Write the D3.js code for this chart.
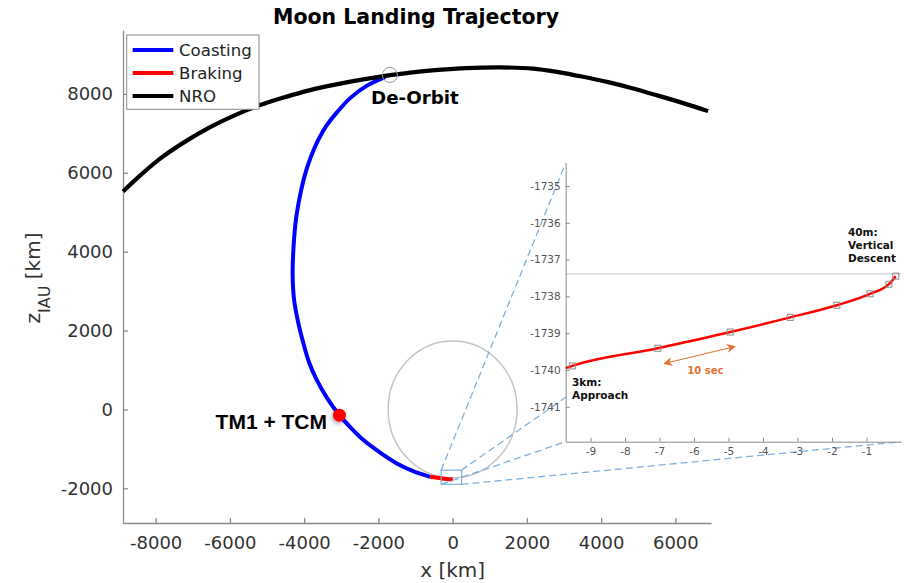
<!DOCTYPE html>
<html>
<head>
<meta charset="utf-8">
<script src="https://cdn.jsdelivr.net/npm/d3@7"></script>
<style>
  body { margin: 0; background: #fff; }
  svg { display: block; }
</style>
</head>
<body>
<svg id="chart" width="906" height="583"></svg>
<script>
// ---- Trajectory data (x, z in km, IAU frame) ----
const nroPath = [[-8879, 5527], [-8392, 5953], [-7880, 6359], [-7206, 6790], [-6533, 7158],
  [-5859, 7462], [-5186, 7716], [-4513, 7918], [-3839, 8096], [-3165, 8235], [-2492, 8354],
  [-1818, 8456], [-1145, 8540], [-391, 8608], [383, 8654], [1293, 8671], [2169, 8641],
  [2842, 8552], [3516, 8433], [4189, 8299], [4863, 8139], [5536, 7956], [6210, 7766], [6883, 7563]];
const coastingPath = [[-1818, 8425], [-2330, 8197], [-2761, 7893], [-3111, 7538], [-3408, 7183],
  [-3623, 6828], [-3812, 6422], [-3974, 5966], [-4108, 5434], [-4216, 4850], [-4283, 4166],
  [-4310, 3405], [-4270, 2771], [-4162, 2213], [-4019, 1673], [-3866, 1191], [-3658, 743],
  [-3381, 287], [-3050, -145], [-2734, -474], [-2403, -778], [-1953, -1095], [-1503, -1369],
  [-1064, -1564], [-606, -1709]];
const brakingPath = [[-606, -1709], [-291, -1750], [5, -1775]];
const deOrbitPoint = [-1690, 8480];
const tcmPoint = [-3050, -145];
const moonRadius = 1737;
const zoomBox = { x0: -310, x1: 240, z0: -1900, z1: -1540 };

const xTicks = [-8000, -6000, -4000, -2000, 0, 2000, 4000, 6000];
const zTicks = [-2000, 0, 2000, 4000, 6000, 8000];

const legendLabels = ["Coasting", "Braking", "NRO"];
const legendColors = ["#0000ff", "#ff0000", "#000000"];

// ---- Final approach detail (x in km, z in km) ----
const approachStart = [-9.72, -1739.95];
const descentX = [-9.53, -7.05, -4.95, -3.21, -1.86, -0.90, -0.35, -0.15];
const descentZ = [-1739.89, -1739.41, -1738.97, -1738.57, -1738.24, -1737.93, -1737.67, -1737.45];
const verticalGateZ = -1737.39;
const insetXTicks = [-9, -8, -7, -6, -5, -4, -3, -2, -1];
const insetZTicks = [-1741, -1740, -1739, -1738, -1737, -1736, -1735];
const tenSecArrow = [[-6.84, -1739.82], [-4.84, -1739.37]];

const svg = d3.select("#chart");
const FONT = "'DejaVu Sans', sans-serif";
const axisGray = "#8c8c8c";

// ---- Main axes ----
const x = d3.scaleLinear().domain([-8880, 6960]).range([123, 711]);
const z = d3.scaleLinear().domain([-2880, 9620]).range([523, 30]);

const defs = svg.append("defs");
const shadow = defs.append("filter").attr("id", "dotShadow")
  .attr("x", "-100%").attr("y", "-100%").attr("width", "300%").attr("height", "300%");
shadow.append("feDropShadow").attr("dx", -1).attr("dy", 2).attr("stdDeviation", 2)
  .attr("flood-color", "#000").attr("flood-opacity", 0.35);

const xAxis = svg.append("g").attr("transform", `translate(0,${z.range()[0]})`)
  .call(d3.axisBottom(x).tickValues(xTicks).tickSize(-5).tickSizeOuter(0).tickPadding(13)
    .tickFormat(d3.format("d")));
const zAxis = svg.append("g").attr("transform", `translate(${x.range()[0]},0)`)
  .call(d3.axisLeft(z).tickValues(zTicks).tickSize(-5).tickSizeOuter(0).tickPadding(10)
    .tickFormat(d3.format("d")));
[xAxis, zAxis].forEach(g => {
  g.select(".domain").attr("stroke", axisGray).attr("stroke-width", 1.3);
  g.selectAll(".tick line").attr("stroke", axisGray).attr("stroke-width", 1.3);
  g.selectAll(".tick text").attr("fill", "#333").attr("font-family", FONT).attr("font-size", 18)
    .text(d => d < 0 ? "-" + Math.abs(d) : d);
});

// axis titles
svg.append("text").attr("x", x(0)).attr("y", 577).attr("text-anchor", "middle")
  .attr("font-family", FONT).attr("font-size", 20).attr("fill", "#333").text("x [km]");
const zLabel = svg.append("text").attr("transform", "translate(40,278) rotate(-90)")
  .attr("text-anchor", "middle").attr("font-family", FONT).attr("font-size", 20).attr("fill", "#333");
zLabel.append("tspan").text("z");
zLabel.append("tspan").attr("font-size", 16).attr("dy", 10).text("IAU");
zLabel.append("tspan").attr("dy", -10).text(" [km]");

// title
svg.append("text").attr("x", 416).attr("y", 24).attr("text-anchor", "middle")
  .attr("font-family", FONT).attr("font-weight", "bold").attr("font-size", 20.5)
  .attr("fill", "#000").text("Moon Landing Trajectory");

// Moon outline
svg.append("ellipse").attr("cx", x(0)).attr("cy", z(0))
  .attr("rx", x(moonRadius) - x(0)).attr("ry", z(0) - z(moonRadius))
  .attr("fill", "none").attr("stroke", "#c4c4c4").attr("stroke-width", 1.5);

const line = d3.line().x(d => x(d[0])).y(d => z(d[1])).curve(d3.curveCatmullRom.alpha(0.5));

svg.append("path").attr("d", line(coastingPath)).attr("fill", "none")
  .attr("stroke", legendColors[0]).attr("stroke-width", 4);
svg.append("path").attr("d", line(brakingPath)).attr("fill", "none")
  .attr("stroke", legendColors[1]).attr("stroke-width", 4);
svg.append("path").attr("d", line(nroPath)).attr("fill", "none")
  .attr("stroke", legendColors[2]).attr("stroke-width", 4.2);

// De-orbit marker
svg.append("circle").attr("cx", x(deOrbitPoint[0])).attr("cy", z(deOrbitPoint[1])).attr("r", 7.5)
  .attr("fill", "none").attr("stroke", "#9a9a9a").attr("stroke-width", 1);
svg.append("text").attr("x", 371).attr("y", 104).attr("font-family", FONT)
  .attr("font-weight", "bold").attr("font-size", 18.3).attr("fill", "#000").text("De-Orbit");

// TM1 + TCM
svg.append("circle").attr("cx", x(tcmPoint[0])).attr("cy", z(tcmPoint[1])).attr("r", 6.5)
  .attr("fill", "#ff0000").attr("filter", "url(#dotShadow)");
svg.append("text").attr("x", 327).attr("y", 429).attr("text-anchor", "end")
  .attr("font-family", "'Liberation Sans', Arial, sans-serif").attr("font-weight", "bold")
  .attr("font-size", 21).attr("fill", "#000").text("TM1 + TCM");

// ---- Inset axes ----
const ix = d3.scaleLinear().domain([-9.72, 0]).range([565.7, 901]);
const iz = d3.scaleLinear().domain([-1741.95, -1734.375]).range([441.7, 163]);

// zoom box and connector lines
const boxPx = { l: x(zoomBox.x0), r: x(zoomBox.x1), t: z(zoomBox.z1), b: z(zoomBox.z0) };
const insetPx = { l: ix.range()[0], r: ix.range()[1], t: iz.range()[1], b: iz.range()[0] };
const connectors = [
  [boxPx.l, boxPx.t, insetPx.l, insetPx.t],
  [boxPx.r, boxPx.t, insetPx.r, insetPx.t],
  [boxPx.l, boxPx.b, insetPx.l, insetPx.b],
  [boxPx.r, boxPx.b, insetPx.r, insetPx.b]
];
svg.append("g").selectAll("line").data(connectors).join("line")
  .attr("x1", d => d[0]).attr("y1", d => d[1]).attr("x2", d => d[2]).attr("y2", d => d[3])
  .attr("stroke", "#7fb0e0").attr("stroke-width", 1.3).attr("stroke-dasharray", "7,4");
svg.append("rect").attr("x", boxPx.l).attr("y", boxPx.t)
  .attr("width", boxPx.r - boxPx.l).attr("height", boxPx.b - boxPx.t)
  .attr("fill", "none").attr("stroke", "#7fb0e0").attr("stroke-width", 1.2);

// inset background
svg.append("rect").attr("x", insetPx.l).attr("y", insetPx.t)
  .attr("width", insetPx.r - insetPx.l).attr("height", insetPx.b - insetPx.t).attr("fill", "#fff");

// vertical-descent gate
svg.append("line").attr("x1", insetPx.l).attr("x2", insetPx.r)
  .attr("y1", iz(verticalGateZ)).attr("y2", iz(verticalGateZ))
  .attr("stroke", "#d0d0d0").attr("stroke-width", 1.2);

const ixAxis = svg.append("g").attr("transform", `translate(0,${insetPx.b})`)
  .call(d3.axisBottom(ix).tickValues(insetXTicks).tickSize(-4).tickSizeOuter(0).tickPadding(6));
const izAxis = svg.append("g").attr("transform", `translate(${insetPx.l},0)`)
  .call(d3.axisLeft(iz).tickValues(insetZTicks).tickSize(-4).tickSizeOuter(0).tickPadding(5));
[ixAxis, izAxis].forEach(g => {
  g.select(".domain").attr("stroke", "#8a8a8a").attr("stroke-width", 1);
  g.selectAll(".tick line").attr("stroke", "#8a8a8a");
  g.selectAll(".tick text").attr("fill", "#555").attr("font-family", FONT).attr("font-size", 10.5)
    .text(d => "-" + Math.abs(d));
});

// approach path
const descentPts = descentX.map((v, i) => [v, descentZ[i]]);
const iline = d3.line().x(d => ix(d[0])).y(d => iz(d[1])).curve(d3.curveMonotoneX);
svg.append("path").attr("d", iline([approachStart, ...descentPts])).attr("fill", "none")
  .attr("stroke", "#ff0000").attr("stroke-width", 2.5);
svg.append("g").selectAll("rect").data(descentPts).join("rect")
  .attr("x", d => ix(d[0]) - 3).attr("y", d => iz(d[1]) - 3).attr("width", 6).attr("height", 6)
  .attr("fill", "none").attr("stroke", "#8a8a8a").attr("stroke-width", 1);

// 10 s arrow
const arrowColor = "#e2702e";
defs.append("marker").attr("id", "arrowHead").attr("viewBox", "0 0 10 10")
  .attr("refX", 8).attr("refY", 5).attr("markerWidth", 9).attr("markerHeight", 9)
  .attr("markerUnits", "userSpaceOnUse").attr("orient", "auto-start-reverse")
  .append("path").attr("d", "M0,0 L10,5 L0,10 L3,5 Z").attr("fill", arrowColor);
svg.append("line")
  .attr("x1", ix(tenSecArrow[0][0])).attr("y1", iz(tenSecArrow[0][1]))
  .attr("x2", ix(tenSecArrow[1][0])).attr("y2", iz(tenSecArrow[1][1]))
  .attr("stroke", arrowColor).attr("stroke-width", 1)
  .attr("marker-start", "url(#arrowHead)").attr("marker-end", "url(#arrowHead)");
svg.append("text").attr("x", ix(-5.67)).attr("y", iz(-1740) + 4).attr("text-anchor", "middle")
  .attr("font-family", FONT).attr("font-weight", "bold").attr("font-size", 10)
  .attr("fill", arrowColor).text("10 sec");

// phase annotations
const note = (lines, x0, y0) => {
  const t = svg.append("text").attr("font-family", FONT).attr("font-weight", "bold")
    .attr("font-size", 10.5).attr("fill", "#111");
  lines.forEach((s, i) => t.append("tspan").attr("x", x0).attr("y", y0 + i * 13).text(s));
};
note(["3km:", "Approach"], 572, 386);
note(["40m:", "Vertical", "Descent"], 848, 236);

// ---- Legend ----
const lg = svg.append("g");
lg.append("rect").attr("x", 126.7).attr("y", 35).attr("width", 132.3).attr("height", 74.3)
  .attr("fill", "#fff").attr("stroke", "#8a8a8a").attr("stroke-width", 1);
legendLabels.forEach((lab, i) => {
  const yy = 50 + i * 23;
  lg.append("line").attr("x1", 132.7).attr("x2", 173.3).attr("y1", yy).attr("y2", yy)
    .attr("stroke", legendColors[i]).attr("stroke-width", 4);
  lg.append("text").attr("x", 179).attr("y", yy + 6).attr("font-family", FONT)
    .attr("font-size", 16.6).attr("fill", "#222").text(lab);
});
</script>
</body>
</html>
